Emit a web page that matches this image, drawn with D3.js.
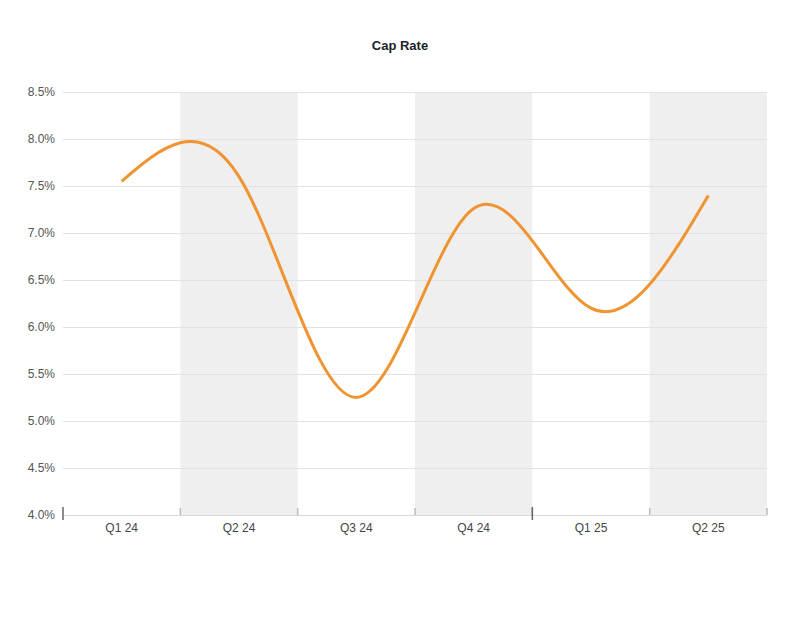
<!DOCTYPE html>
<html><head><meta charset="utf-8">
<script src="https://cdn.jsdelivr.net/npm/d3@7"></script>
<style>body{margin:0;background:#fff;} text{font-family:"Liberation Sans",Arial,sans-serif;}</style>
</head><body>
<svg id="c" width="800" height="618"></svg>
<script>
const categories = ["Q1 24","Q2 24","Q3 24","Q4 24","Q1 25","Q2 25"];
const capRate = [7.55, 7.6, 5.25, 7.26, 6.2, 7.4];
const yTicks = [4.0,4.5,5.0,5.5,6.0,6.5,7.0,7.5,8.0,8.5];

const svg = d3.select("#c");
const m = {l:63, r:767, t:92, b:515};
const x = d3.scaleBand().domain(categories).range([m.l, m.r]);
const y = d3.scaleLinear().domain([4.0, 8.5]).range([m.b, m.t]);

svg.append("text").attr("x",400).attr("y",50).attr("text-anchor","middle")
  .attr("font-size",13).attr("font-weight","bold").attr("fill","#1b1f2a").text("Cap Rate");

// bands
svg.append("g").selectAll("rect").data(categories.filter((d,i)=>i%2===1)).join("rect")
  .attr("x",d=>x(d)).attr("width",x.bandwidth()).attr("y",m.t).attr("height",m.b-m.t).attr("fill","#efefef");

// grid
svg.append("g").selectAll("line").data(yTicks).join("line")
  .attr("x1",m.l).attr("x2",m.r).attr("y1",d=>y(d)+0.5).attr("y2",d=>y(d)+0.5)
  .attr("stroke","#e2e2e2").attr("stroke-width",1);

// y labels
svg.append("g").selectAll("text").data(yTicks).join("text")
  .attr("x",55).attr("y",d=>y(d)+4).attr("text-anchor","end").attr("font-size",12).attr("fill","#555")
  .text(d=>d.toFixed(1)+"%");

// baseline
svg.append("line").attr("x1",m.l).attr("x2",m.r).attr("y1",m.b+0.5).attr("y2",m.b+0.5).attr("stroke","#d8d8d8");

// band edge ticks (light)
const bandEdges = [];
categories.forEach((d,i)=>{ if(i%2===1){ bandEdges.push(x(d)); bandEdges.push(x(d)+x.bandwidth()); }});
svg.append("g").selectAll("line").data(bandEdges).join("line")
  .attr("x1",d=>d).attr("x2",d=>d).attr("y1",m.b-7).attr("y2",m.b).attr("stroke","#bbb").attr("stroke-width",1.5);

// dark ticks
const darkTicks = [x(categories[0]), x(categories[4])];
svg.append("g").selectAll("line").data(darkTicks).join("line")
  .attr("x1",d=>d).attr("x2",d=>d).attr("y1",m.b-8).attr("y2",m.b+5).attr("stroke","#666").attr("stroke-width",1.5);

// x labels
svg.append("g").selectAll("text").data(categories).join("text")
  .attr("x",d=>x(d)+x.bandwidth()/2).attr("y",m.b+17).attr("text-anchor","middle")
  .attr("font-size",12).attr("fill","#444").text(d=>d);

// line
const line = d3.line().x((d,i)=>x(categories[i])+x.bandwidth()/2).y(d=>y(d)).curve(d3.curveNatural);
svg.append("path").datum(capRate).attr("d",line).attr("fill","none")
  .attr("stroke","#ef9430").attr("stroke-width",3);
</script>
</body></html>
